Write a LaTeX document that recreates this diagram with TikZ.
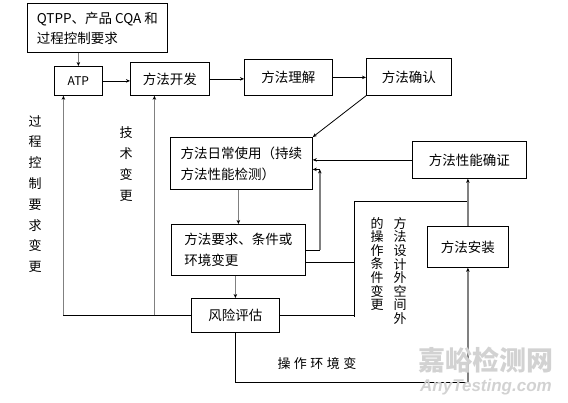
\documentclass[tikz,border=0pt]{standalone}
\usepackage{fontspec}
\setmainfont{Noto Sans CJK SC}
\newfontfamily\wmfont{Liberation Sans}
\usetikzlibrary{arrows.meta}

\begin{document}
\begin{tikzpicture}[x=1pt, y=-1pt,
  box/.style={draw, line width=0.8pt, anchor=north west, inner sep=0pt, align=left,
    font=\fontsize{13.5}{21}\selectfont},
  blk/.style={line width=0.8pt},
  gry/.style={draw=gray, line width=1.6pt},
  tip/.style={-{Stealth[length=4pt, width=3.5pt, color=black]}},
  vtxt/.style={align=center, inner sep=0pt, font=\fontsize{13}{20.8}\selectfont},
  ctxt/.style={align=center, inner sep=0pt, font=\fontsize{13}{13.6}\selectfont}]
\useasboundingbox (0,0) rectangle (568,402);
% boxes
\node[box, minimum width=140pt, minimum height=49pt, font=\fontsize{13.5}{20}\selectfont] (qtpp) at (27,3) {QTPP、产品 CQA 和\\过程控制要求};
\node[box, minimum width=48pt, minimum height=29pt, font=\fontsize{12}{14}\selectfont] (atp) at (54,66) {ATP};
\node[box, minimum width=79pt, minimum height=33pt] (dev) at (130,62) {方法开发};
\node[box, minimum width=88pt, minimum height=36pt] (und) at (244,59) {方法理解};
\node[box, minimum width=85pt, minimum height=37pt] (conf) at (366,58) {方法确认};
\node[box, minimum width=142pt, minimum height=52pt] (use) at (170,137) {方法日常使用（持续\\方法性能检测）};
\node[box, minimum width=114pt, minimum height=37pt] (verify) at (412,141) {方法性能确证};
\node[box, minimum width=134pt, minimum height=51pt] (req) at (171,224) {方法要求、条件或\\环境变更};
\node[box, minimum width=81pt, minimum height=41pt] (install) at (427,226) {方法安装};
\node[box, minimum width=88pt, minimum height=34pt] (risk) at (191,298) {风险评估};
% main flow
\draw[gry, tip] (atp.north |- qtpp.south) -- (atp.north);
\draw[blk, tip] (atp.east) -- (atp.east -| dev.west);
\draw[blk, tip] (dev.east) -- (dev.east -| und.west);
\draw[blk, tip] (und.east) -- (und.east -| conf.west);
\draw[blk, tip] (conf.south west) -- (use.north east);
\draw[blk, tip] (verify.west) -- (verify.west -| use.east);
\draw[gry, tip] (use.south -| req.north) -- (req.north);
\draw[gry, tip] (req.south -| risk.north) -- (risk.north);
% back to daily use
\coordinate (usein) at ([yshift=-6pt]use.east);
\draw[blk] (req.east) -- ++(14,0) coordinate (fb);
\draw[gry, tip] (fb) -- (fb |- usein);
\draw[blk, tip] (fb |- usein) -- (usein);
% outside design space
\coordinate (btop) at (354,201);
\coordinate (bbot) at (354,317);
\draw[blk] ([yshift=-12pt]req.east) -- ++(49,0);
\draw[blk] (risk.east) -- (risk.east -| btop);
\draw[blk] (btop) -- (bbot);
\draw[blk] (btop) -- (btop -| install.north);
\draw[gry, tip] (install.north) -- (install.north |- verify.south);
% operating environment
\draw[blk] (risk.south) -- ++(0,50) coordinate (bot) -- (bot -| install.south);
\draw[gry, tip] (bot -| install.south) -- (install.south);
% left returns
\coordinate (atpin) at ([xshift=-15pt]atp.south);
\coordinate (devin) at ([xshift=-15.5pt]dev.south);
\draw[blk] (risk.west) -- (risk.west -| atpin);
\draw[gry, tip] (risk.west -| atpin) -- (atpin);
\draw[gry, tip] (risk.west -| devin) -- (devin);
% labels
\node[vtxt] (lproc) at (35,194) {过\\程\\控\\制\\要\\求\\变\\更};
\node[vtxt] (ltech) at (126,164) {技\\术\\变\\更};
\node[ctxt] (ldesa) at (400,271) {方\\法\\设\\计\\外\\空\\间\\外};
\node[ctxt] (ldesb) at (377,264) {的\\操\\作\\条\\件\\变\\更};
\node[inner sep=0pt, font=\fontsize{13}{13}\selectfont] (lenv) at (317,364) {操\hspace{3.5pt}作\hspace{3.5pt}环\hspace{3.5pt}境\hspace{3.5pt}变};
% watermark
\node[text=gray!35, font=\fontsize{27}{27}\selectfont\bfseries] (wma) at (486,360) {嘉峪检测网};
\node[text=gray!35, font=\wmfont\fontsize{17}{17}\selectfont\bfseries\itshape] (wmb) at (486,387) {AnyTesting.com};
\end{tikzpicture}
\end{document}
